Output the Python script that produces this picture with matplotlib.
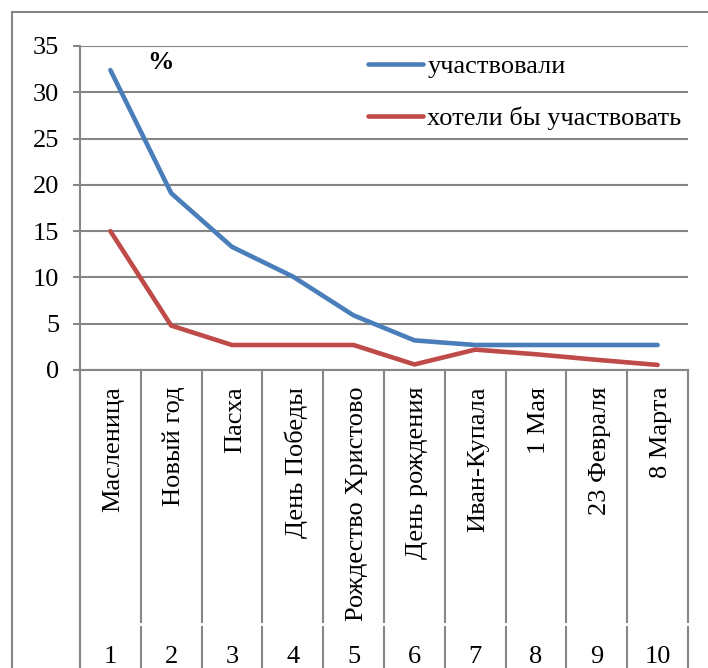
import matplotlib.pyplot as plt
import matplotlib.transforms as mtransforms
from matplotlib.lines import Line2D

plt.rcParams['font.family'] = ['Liberation Serif', 'DejaVu Serif']

# data
holidays = ['Масленица', 'Новый год', 'Пасха', 'День Победы', 'Рождество Христово',
            'День рождения', 'Иван-Купала', '1 Мая', '23 Февраля', '8 Марта']
numbers = ['1', '2', '3', '4', '5', '6', '7', '8', '9', '10']
took_part = [32.4, 19.1, 13.3, 10.1, 5.9, 3.2, 2.7, 2.7, 2.7, 2.7]
would_like = [15.0, 4.8, 2.7, 2.7, 2.7, 0.6, 2.2, 1.7, 1.1, 0.55]
series_names = ['участвовали', 'хотели бы участвовать']

W, H = 708, 668
grid_col = '#868686'
blue = '#4A7EBB'
red = '#BE4B48'
fs = 19

fig = plt.figure(figsize=(W / 100, H / 100), dpi=100)
# plot area in pixels: x 80..688, y 46..370
ax = fig.add_axes([80 / W, (H - 370) / H, 608 / W, 324 / H])

x = list(range(1, len(holidays) + 1))
ax.plot(x, took_part, color=blue, lw=3.3, solid_capstyle='round', label=series_names[0], zorder=3)
ax.plot(x, would_like, color=red, lw=3.3, solid_capstyle='round', label=series_names[1], zorder=3)

ax.set_xlim(0.5, len(holidays) + 0.5)
ax.set_ylim(0, 35)
ax.set_yticks(range(0, 36, 5))
ax.yaxis.grid(True, color=grid_col, lw=1.5)
ax.set_axisbelow(True)
for s in ['top', 'right']:
    ax.spines[s].set_visible(False)
ax.spines['left'].set_color(grid_col)
ax.spines['left'].set_linewidth(1.5)
ax.spines['bottom'].set_color(grid_col)
ax.spines['bottom'].set_linewidth(1.5)
ax.tick_params(axis='y', length=5, width=1.5, color=grid_col, labelsize=fs, pad=10)

ax.set_xticks(x)
ax.set_xticklabels(holidays, rotation=90, fontsize=fs)
ax.tick_params(axis='x', length=0, pad=12)
shift = mtransforms.ScaledTranslation(3 / 100, 0, fig.dpi_scale_trans)
for lab in ax.get_xticklabels():
    lab.set_transform(lab.get_transform() + shift)

# category separators (two levels with a small gap)
trans = ax.get_xaxis_transform()
for b in [i + 0.5 for i in range(len(holidays) + 1)]:
    ax.plot([b, b], [0, -0.778], transform=trans, color=grid_col, lw=1.5, clip_on=False)
    ax.plot([b, b], [-0.792, -1.0], transform=trans, color=grid_col, lw=1.5, clip_on=False)
ax.plot([0.5, 0.5], [0, -1.0], transform=trans, color=grid_col, lw=1.5, clip_on=False)

for xi, n in zip(x, numbers):
    ax.text(xi, -0.885, n, transform=trans, ha='center', va='center', fontsize=fs)

ax.text(0.132, 0.95, '%', transform=ax.transAxes, fontsize=fs, fontweight='bold',
        ha='center', va='center')

ax.legend(loc='upper left', bbox_to_anchor=(368 / W, (H - 55) / H),
          bbox_transform=fig.transFigure, frameon=False, fontsize=fs,
          handlelength=2.1, handletextpad=0.15, labelspacing=1.08,
          borderpad=0, borderaxespad=0)

# outer chart border (cropped)
fig.add_artist(Line2D([12 / W, 12 / W], [0, (H - 12) / H], color=grid_col, lw=1.5))
fig.add_artist(Line2D([12 / W, 1], [(H - 12) / H, (H - 12) / H], color=grid_col, lw=1.5))

fig.savefig('out.png', dpi=100)
